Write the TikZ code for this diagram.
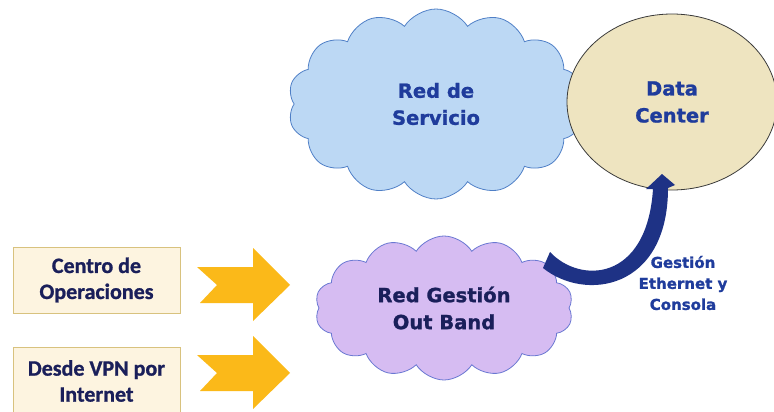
\documentclass[tikz,border=0pt]{standalone}
\usepackage{fontspec}
\setmainfont{DejaVu Sans}[BoldFeatures={FakeBold=1.2}]
\newfontfamily\boxfont{Carlito}[BoldFeatures={FakeBold=1}]
\usetikzlibrary{shapes.symbols,shapes.geometric,arrows.meta}
\definecolor{servfill}{HTML}{BCD8F4}
\definecolor{servline}{HTML}{4F7FC6}
\definecolor{dcfill}{HTML}{EEE4C0}
\definecolor{dcline}{HTML}{3A3A3A}
\definecolor{oobfill}{HTML}{D6BCF2}
\definecolor{oobline}{HTML}{6A78D2}
\definecolor{bluetext}{HTML}{1F3C9C}
\definecolor{navytext}{HTML}{1A1F5A}
\definecolor{boxfill}{HTML}{FDF4E0}
\definecolor{boxline}{HTML}{D8C27E}
\definecolor{chev}{HTML}{FBB919}
\definecolor{curvecol}{HTML}{1E3285}
\tikzset{
  bigtext/.style={font=\bfseries\fontsize{19.5}{27}\selectfont, align=center},
  netcloud/.style={cloud, cloud puffs=14, cloud puff arc=115, aspect=1.7, line width=0.8pt, bigtext},
  originbox/.style={draw=boxline, fill=boxfill, line width=0.8pt, minimum width=167pt,
    text=navytext, font=\boxfont\bfseries\fontsize{22}{26}\selectfont, align=center},
  chevron/.style={fill=chev},
}
\begin{document}
\begin{tikzpicture}[x=1pt,y=-1pt]
\useasboundingbox (0,0) rectangle (774,412);

% service network and data center
\node[netcloud, fill=servfill, draw=servline, text=bluetext,
      minimum width=296pt, minimum height=190pt] (serv) at (436,104) {Red de\\Servicio};
\node[ellipse, fill=dcfill, draw=dcline, line width=0.8pt, minimum width=210pt,
      minimum height=176pt, bigtext, text=bluetext] (dc) at (672,102) {Data\\Center};

% out-of-band management network
\node[netcloud, fill=oobfill, draw=oobline, text=navytext,
      minimum width=258pt, minimum height=144pt] (oob) at (444,308) {Red Gestión\\Out Band};

% access origins
\node[originbox, minimum height=66pt] (noc) at (96.5,280) {Centro de\\Operaciones};
\node[originbox, minimum height=68pt] (vpn) at (96.5,381) {Desde VPN por\\Internet};

% chevron arrows towards the management cloud
\foreach \dy/\nm in {0/chevA, 88/chevB}{
  \begin{scope}[yshift=-\dy pt]
    \fill[chevron] (197,267) -- (253,267) -- (253,248) -- (290,285) -- (253,321)
      -- (253,303) -- (200,303) -- (217,285) -- cycle;
    \coordinate (\nm) at (245,285);
  \end{scope}
}

% curved management link from the OOB cloud into the data center
\coordinate (tailin) at (550,252);
\coordinate (tailout) at (543,268);
\coordinate (headl) at (646,189);
\coordinate (tip) at (662,174);
\coordinate (headr) at (675,185);
\fill[curvecol] (tailin) .. controls (580,284) and (647,282) .. (653,189) -- (headl) -- (tip)
  -- (headr) -- (668,188) .. controls (668,290) and (585,302) .. (tailout) -- cycle;

\node[font=\bfseries\fontsize{15}{21}\selectfont, text=bluetext, align=center] (lbl) at (683,283)
  {Gestión\\Ethernet y\\Consola};
\end{tikzpicture}
\end{document}
